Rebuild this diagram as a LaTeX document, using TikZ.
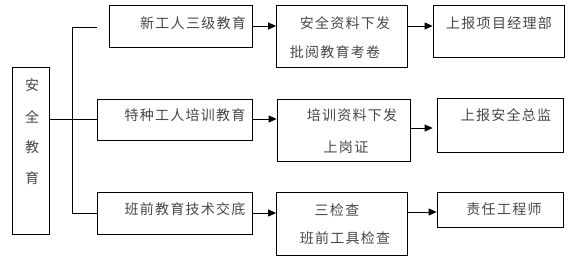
\documentclass[tikz,border=0pt]{standalone}
\usepackage{fontspec}
\newfontfamily\cjk[LetterSpace=9]{Noto Sans CJK SC}
\usetikzlibrary{arrows.meta}
\begin{document}
\begin{tikzpicture}[x=1pt,y=-1pt,
  box/.style={draw=black,line width=0.8pt,inner sep=0pt},
  txt/.style={font=\cjk\fontsize{14}{15}\selectfont,text=black!72,inner sep=0pt},
  line/.style={draw=black,line width=0.8pt},
  arr/.style={line, -{Triangle[length=8pt,width=7pt]}}]
\useasboundingbox (0,0) rectangle (572,260);
% boxes
\node[box,minimum width=37pt,minimum height=167pt] (main) at (30.5,150.5) {};
\node[box,minimum width=143pt,minimum height=42pt] (b1) at (180.5,26) {};
\node[box,minimum width=155pt,minimum height=41pt] (b2) at (174.5,119.5) {};
\node[box,minimum width=155pt,minimum height=42pt] (b3) at (174.5,213) {};
\node[box,minimum width=131pt,minimum height=62pt] (c1) at (342,36) {};
\node[box,minimum width=133pt,minimum height=62pt] (c2) at (343.5,130) {};
\node[box,minimum width=131pt,minimum height=63pt] (c3) at (342,223.5) {};
\node[box,minimum width=131pt,minimum height=52pt] (d1) at (498.5,31) {};
\node[box,minimum width=126pt,minimum height=54pt] (d2) at (500,125) {};
\node[box,minimum width=126pt,minimum height=35pt] (d3) at (500,209.5) {};
% texts
\node[txt] (t1) at (32,85) {安};
\node[txt] (t2) at (32,117) {全};
\node[txt] (t3) at (32,147) {教};
\node[txt] (t4) at (32,178) {育};
\node[txt] (tb1) at (193,23) {新工人三级教育};
\node[txt] (tb2) at (185,115) {特种工人培训教育};
\node[txt] (tb3) at (185,209) {班前教育技术交底};
\node[txt] (tc1a) at (345,23) {安全资料下发};
\node[txt] (tc1b) at (335,52) {批阅教育考卷};
\node[txt] (tc2a) at (352,115) {培训资料下发};
\node[txt] (tc2b) at (346,147) {上岗证};
\node[txt] (tc3a) at (337,210) {三检查};
\node[txt] (tc3b) at (345,238) {班前工具检查};
\node[txt] (td1) at (499,23) {上报项目经理部};
\node[txt] (td2) at (506,115) {上报安全总监};
\node[txt] (td3) at (504,209) {责任工程师};
% connectors
\coordinate (j) at (72,119);
\coordinate (top) at (97,27);
\draw[line] (main.east |- j) -- (b2.west |- j);
\draw[line] (top) -- (72,27) -- (72,213) -- (b3.west |- 0,213);
\draw[arr] (b1.east |- 0,26) -- (c1.west |- 0,26);
\draw[arr] (b2.east |- 0,119) -- (c2.west |- 0,119);
\draw[arr] (b3.east |- 0,213) -- (c3.west |- 0,213);
\draw[arr] (c1.east |- 0,26) -- (d1.west |- 0,26);
\draw[arr] (c2.east |- 0,128) -- ([xshift=-4pt]d2.west |- 0,128);
\draw[arr] (c3.east |- 0,212) -- (d3.west |- 0,212);
\end{tikzpicture}
\end{document}
